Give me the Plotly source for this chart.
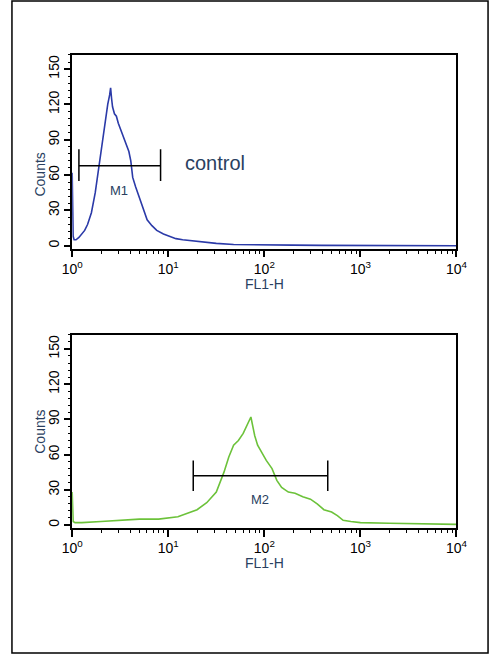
import plotly.graph_objects as go

# Top histogram (control), x as log10 exponent, counts
ctrl_log = [0.0, 0.005, 0.01, 0.02, 0.04, 0.07, 0.1, 0.13, 0.16, 0.2, 0.24, 0.28, 0.31, 0.34, 0.37, 0.39, 0.40, 0.41, 0.42, 0.44, 0.46, 0.48, 0.51, 0.55, 0.59, 0.61, 0.63, 0.66, 0.70, 0.74, 0.78, 0.83, 0.88, 0.95, 1.02, 1.08, 1.15, 1.25, 1.35, 1.5, 1.68, 1.85, 2.0, 2.3, 2.6, 3.0, 3.5, 4.0]
ctrl_counts = [62, 30, 8, 5, 5, 7, 10, 13, 18, 28, 45, 68, 88, 105, 120, 128, 134, 125, 118, 112, 110, 104, 97, 88, 80, 72, 58, 50, 40, 30, 22, 17, 13, 10, 8, 6, 5, 4, 3, 2, 1, 1, 0.5, 0.5, 0.3, 0.3, 0.2, 0]
# Bottom histogram (sample)
samp_log = [0.0, 0.005, 0.01, 0.03, 0.1, 0.3, 0.5, 0.7, 0.9, 1.0, 1.1, 1.2, 1.3, 1.4, 1.5, 1.58, 1.63, 1.68, 1.73, 1.78, 1.83, 1.86, 1.88, 1.90, 1.93, 1.97, 2.02, 2.08, 2.13, 2.18, 2.25, 2.32, 2.4, 2.48, 2.55, 2.62, 2.7, 2.76, 2.82, 2.9, 3.0, 3.3, 3.6, 4.0]
samp_counts = [28, 15, 3, 2, 2, 3, 4, 5, 5, 6, 7, 10, 13, 19, 28, 45, 58, 68, 72, 78, 86, 92, 84, 76, 68, 62, 55, 48, 38, 32, 28, 27, 24, 22, 18, 13, 11, 8, 4, 3, 2, 1.5, 1, 0.5]

tick_vals = [1, 10, 100, 1000, 10000]
tick_text = ["10<sup>0</sup>", "10<sup>1</sup>", "10<sup>2</sup>", "10<sup>3</sup>", "10<sup>4</sup>"]
minor_vals = [m * d for d in (1, 10, 100, 1000) for m in range(2, 10)]
y_ticks = [0, 30, 60, 90, 120, 150]
y_minor = list(range(0, 163, 6))

fig = go.Figure()
fig.add_trace(go.Scatter(x=[10 ** v for v in ctrl_log], y=ctrl_counts, mode="lines",
                         line=dict(color="#2b3aa8", width=1.6), xaxis="x", yaxis="y"))
fig.add_trace(go.Scatter(x=[10 ** v for v in samp_log], y=samp_counts, mode="lines",
                         line=dict(color="#6cc23a", width=1.6), xaxis="x2", yaxis="y2"))

tf = dict(family="Liberation Sans, Arial", size=14, color="black")
dom = [0.128, 0.932]
xcommon = dict(type="log", range=[0, 4], tickvals=tick_vals, ticktext=tick_text,
               ticks="outside", ticklen=7, tickwidth=1.5, tickcolor="black", showline=True,
               linecolor="black", linewidth=1.5, mirror=True, showgrid=False, zeroline=False,
               tickfont=tf, domain=dom)
xminor = dict(type="log", range=[0, 4], tickvals=minor_vals, ticktext=[""] * len(minor_vals), ticks="outside",
              ticklen=4, tickwidth=1.2, tickcolor="black", showgrid=False, zeroline=False, domain=dom)
ycommon = dict(range=[-2.4, 162], tickvals=y_ticks, ticks="outside", ticklen=6, tickwidth=1.5,
               tickcolor="black", showline=True, linecolor="black", linewidth=1.5, mirror=True,
               showgrid=False, zeroline=False, tickangle=-90, tickfont=tf)
yminor = dict(range=[-2.4, 162], tickvals=y_minor, ticktext=[""] * len(y_minor), ticks="outside", ticklen=3,
              tickwidth=1, tickcolor="black", showgrid=False, zeroline=False)

fig.update_layout(
    width=500, height=654, margin=dict(l=0, r=0, t=0, b=0, pad=0), autosize=False,
    paper_bgcolor="white", plot_bgcolor="rgba(0,0,0,0)", showlegend=False,
    xaxis=dict(**xcommon, anchor="y"),
    yaxis=dict(**ycommon, domain=[0.620, 0.916], anchor="x"),
    xaxis2=dict(**xcommon, anchor="y2"),
    yaxis2=dict(**ycommon, domain=[0.193, 0.488], anchor="x2"),
    xaxis3=dict(**xminor, overlaying="x", anchor="y"),
    xaxis4=dict(**xminor, overlaying="x2", anchor="y2"),
    yaxis3=dict(**yminor, overlaying="y", anchor="x", domain=[0.620, 0.916]),
    yaxis4=dict(**yminor, overlaying="y2", anchor="x2", domain=[0.193, 0.488]),
)
fig.add_trace(go.Scatter(x=[1], y=[0], mode="markers", marker=dict(opacity=0), xaxis="x3", yaxis="y3", hoverinfo="skip"))
fig.add_trace(go.Scatter(x=[1], y=[0], mode="markers", marker=dict(opacity=0), xaxis="x4", yaxis="y4", hoverinfo="skip"))

def marker(xref, yref, x0, x1, y, ylo, yhi):
    fig.add_shape(type="line", xref=xref, yref=yref, x0=x0, x1=x1, y0=y, y1=y, line=dict(color="black", width=1.5))
    for xv in (x0, x1):
        fig.add_shape(type="line", xref=xref, yref=yref, x0=xv, x1=xv, y0=ylo, y1=yhi, line=dict(color="black", width=1.5))

marker("x", "y", 10 ** 0.07, 10 ** 0.92, 68, 55, 82)
marker("x2", "y2", 10 ** 1.26, 10 ** 2.66, 42, 29, 55)

fig.add_annotation(x=0.49, y=47, xref="x", yref="y", text="M1", showarrow=False, font=dict(size=13, family="Liberation Sans"))
fig.add_annotation(x=1.15, y=70, xref="x", yref="y", text="control", showarrow=False, xanchor="left",
                   font=dict(size=20, family="Liberation Sans"))
fig.add_annotation(x=1.95, y=22, xref="x2", yref="y2", text="M2", showarrow=False, font=dict(size=13, family="Liberation Sans"))

for ycen, ytit in ((0.77, 0.565), (0.34, 0.124)):
    fig.add_annotation(x=0.040, y=ycen, xref="paper", yref="paper", text="Counts", textangle=-90,
                       showarrow=False, font=dict(size=14, family="Liberation Sans"))
    fig.add_annotation(x=0.53, y=ytit, xref="paper", yref="paper", text="FL1-H",
                       showarrow=False, font=dict(size=14, family="Liberation Sans"))

fig.add_shape(type="rect", xref="paper", yref="paper", x0=0.002, x1=0.998, y0=0.0015, y1=0.9985,
              line=dict(color="black", width=1.5))

fig.write_html("out.html", default_width="500px", default_height="654px",
               config={"responsive": False, "displayModeBar": False},
               post_script=("document.documentElement.style.overflow='hidden';"
                            "document.body.style.margin='0';document.body.style.padding='0';"
                            "document.body.style.overflow='hidden';"
                            "var g=document.getElementById('{plot_id}');"
                            "Plotly.relayout(g,{width:500,height:654});"))
